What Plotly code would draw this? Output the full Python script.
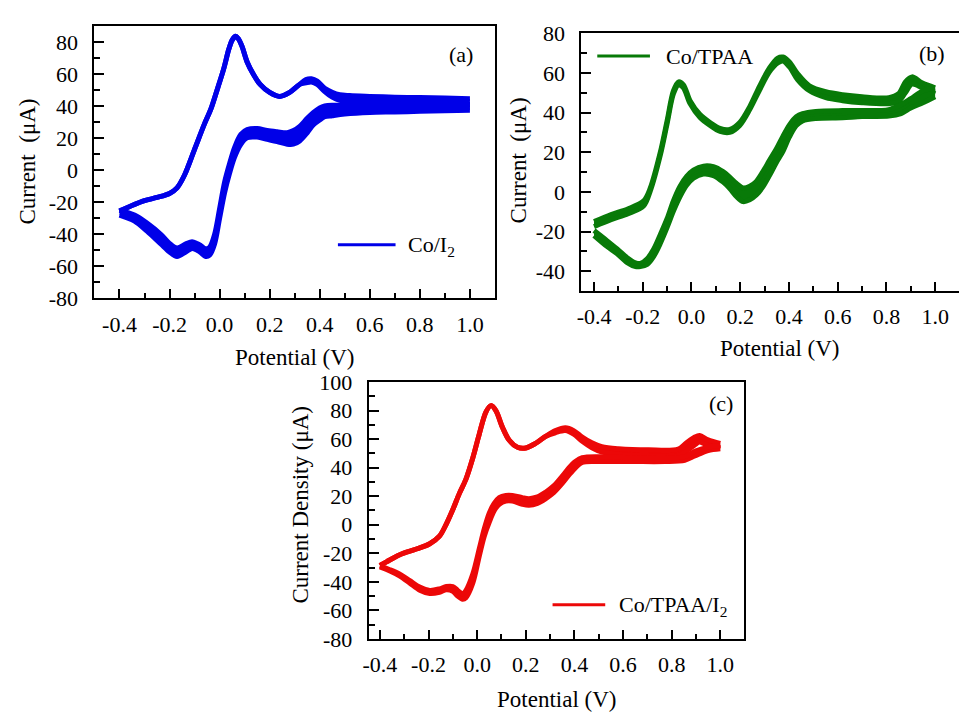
import plotly.graph_objects as go

# ---------------- data: cyclic voltammograms (potential in V, current in µA) ----------------
# Each scan direction is stored as an upper and lower envelope of the cycle band.

# (a) Co/I2
A_FWD_X = [-0.40, -0.35, -0.30, -0.25, -0.20, -0.17, -0.14, -0.10, -0.06, -0.035, -0.01, 0.017, 0.037, 0.05,
           0.063, 0.075, 0.09, 0.11, 0.136, 0.162, 0.20, 0.24, 0.28, 0.32, 0.345, 0.367, 0.39, 0.42, 0.45, 0.48,
           0.52, 0.60, 0.70, 0.80, 0.90, 1.00]
A_FWD_HI = [-25.5, -22, -19, -17, -14.5, -11, -3, 13, 29, 38, 50, 63.5, 75.5, 81, 83.5, 82, 77, 67.5, 59.5, 53.5,
            48.5, 46, 48.5, 53.5, 56.5, 57, 55.5, 51, 48.5, 47, 46.5, 46, 45.5, 45.3, 45, 44.5]
A_FWD_LO = [-25.5, -22, -19, -17, -14.5, -11, -3, 13, 29, 38, 50, 63.5, 75.5, 81, 83.5, 82, 77, 67.5, 59.5, 53.5,
            48.5, 46, 48.5, 53.5, 54.5, 55, 53.5, 49, 45.5, 43.5, 42.5, 42, 41.5, 41.5, 41.5, 41]
A_REV_X = [1.00, 0.90, 0.80, 0.70, 0.60, 0.50, 0.45, 0.42, 0.40, 0.375, 0.35, 0.32, 0.295, 0.27, 0.23, 0.19, 0.15,
           0.11, 0.085, 0.06, 0.04, 0.02, 0.00, -0.02, -0.04, -0.056, -0.075, -0.09, -0.11, -0.135, -0.17, -0.20,
           -0.235, -0.29, -0.34, -0.40]
A_REV_HI = [40.5, 40.3, 40, 40, 40.2, 40.5, 40.5, 40, 38.8, 36, 32.3, 27.3, 24.7, 23.3, 23.9, 24.7, 26, 25.3, 22.3,
            14.2, 4.2, -7.4, -24, -40, -48, -49, -47, -45.7, -44.7, -46, -48.6, -45.7, -40, -33, -28, -25]
A_REV_LO = [37.3, 37, 36.7, 36.3, 36, 35, 34, 33.3, 31.3, 28.3, 23.3, 18.2, 16.2, 16.2, 17.8, 19.2, 20.6, 20.2, 16.2,
            8.2, -1.8, -14, -30, -46, -53, -53.8, -51.5, -50, -48.8, -51, -53.8, -51, -46, -38, -31.7, -28]

# (b) Co/TPAA
B_FWD_X = [-0.40, -0.33, -0.26, -0.196, -0.169, -0.128, -0.10, -0.074, -0.053, -0.033, -0.006, 0.035, 0.076, 0.117,
           0.157, 0.198, 0.239, 0.28, 0.32, 0.354, 0.375, 0.402, 0.436, 0.484, 0.551, 0.62, 0.70, 0.81, 0.85,
           0.878, 0.905, 0.946, 1.00]
B_FWD_HI = [-15, -11.5, -8.5, -4.5, 2, 20, 36, 51, 55.5, 54, 46, 39, 35, 32, 31.5, 35, 43, 53.5, 62.5, 67.5, 68,
            65.5, 59.5, 53.5, 50.5, 49, 48, 47.5, 49.5, 55.5, 58, 55, 52.5]
B_FWD_LO = [-17.5, -14, -11, -7, 0.5, 18.5, 34.5, 49.5, 54, 52.5, 44.5, 37.5, 33.5, 30.5, 30, 33.5, 41.5, 51.5,
            60.5, 65, 66, 63, 56.5, 51, 47.5, 46, 45, 44.5, 45.5, 50, 54.3, 52.5, 49.5]
B_REV_X = [1.00, 0.95, 0.90, 0.86, 0.81, 0.70, 0.62, 0.51, 0.456, 0.43, 0.402, 0.375, 0.348, 0.32, 0.293, 0.266,
           0.239, 0.212, 0.185, 0.157, 0.13, 0.09, 0.049, 0.008, -0.02, -0.047, -0.074, -0.10, -0.128, -0.155,
           -0.182, -0.21, -0.23, -0.264, -0.305, -0.346, -0.40]
B_REV_HI = [52, 51, 47, 44, 41.5, 41, 41, 40.6, 39.5, 37.9, 33.8, 28, 21.6, 15.9, 10.2, 5.3, 2.9, 2, 4.2, 7.5,
            10.2, 12.7, 13, 11, 7.8, 2.9, -4.4, -13.4, -21.5, -28.8, -33.7, -36.1, -35.8, -33.2, -28.8, -24.7, -19.5]
B_REV_LO = [48, 45, 42.3, 39.5, 38.2, 38, 37.4, 37, 35.8, 33.4, 27.7, 20.3, 14.7, 8.2, 2.5, -1.6, -4, -4.9, -2.4,
            1.7, 4.9, 8.2, 9, 6.9, 3.3, -2.4, -9.7, -17.9, -26, -32.5, -36.6, -37.7, -37.7, -35.7, -31.2, -27.6, -22]

# (c) Co/TPAA/I2
C_FWD_X = [-0.40, -0.373, -0.318, -0.25, -0.195, -0.155, -0.127, -0.10, -0.073, -0.046, -0.018, 0.009, 0.036,
           0.057, 0.077, 0.104, 0.132, 0.166, 0.20, 0.24, 0.281, 0.322, 0.363, 0.397, 0.432, 0.472, 0.513, 0.581,
           0.704, 0.827, 0.861, 0.895, 0.915, 0.95, 1.00]
C_FWD_HI = [-28.5, -26, -21, -17, -13.3, -8, 0.5, 10.7, 22, 32, 46.8, 63.7, 79, 83.5, 80, 68.3, 59.2, 54.3, 53.8,
            57, 61.9, 66, 68, 66, 61.5, 57.4, 54.7, 53.3, 52.5, 53, 57.5, 61.5, 62.5, 59.5, 57]
C_FWD_LO = [-28.5, -26, -21, -17, -13.3, -8, 0.5, 10.7, 22, 32, 46.8, 63.7, 79, 83.5, 80, 68.3, 59.2, 54.3, 53.8,
            57, 61.9, 64.5, 66, 63.5, 58.5, 54, 51, 49.5, 48.5, 48.5, 51.5, 56, 58, 55.5, 54]
C_REV_X = [1.00, 0.95, 0.895, 0.854, 0.772, 0.636, 0.50, 0.432, 0.404, 0.377, 0.35, 0.316, 0.281, 0.248, 0.213,
           0.186, 0.145, 0.118, 0.091, 0.07, 0.05, 0.029, 0.009, -0.018, -0.046, -0.06, -0.08, -0.10, -0.127,
           -0.155, -0.195, -0.236, -0.277, -0.318, -0.359, -0.40]
C_REV_HI = [55.5, 54.4, 51.5, 47.7, 46.5, 47, 47.7, 47, 44.3, 39.8, 34.1, 27.4, 22.8, 19.5, 18.3, 19, 20.6, 20.6,
            19, 14.9, 8.2, -3, -16.6, -34.6, -46, -48.3, -46, -43.3, -43.3, -44.9, -46, -43.7, -39.2, -34.7, -31.5,
            -28.8]
C_REV_LO = [53.3, 52, 48.2, 45.2, 44.3, 44.3, 44.3, 43.7, 39.9, 34.7, 29, 22.7, 18.2, 15, 13.7, 14.4, 16.6, 16.6,
            14.4, 9.8, 1.9, -8.2, -21.8, -41, -51.1, -52.2, -50, -46.6, -45.5, -47.3, -48.2, -45.9, -40.9, -36,
            -32.4, -29.6]

# ---------------- axis ticks ----------------
X_TICKS = [-0.4, -0.2, 0.0, 0.2, 0.4, 0.6, 0.8, 1.0]
X_TICK_TEXT = ["-0.4", "-0.2", "0.0", "0.2", "0.4", "0.6", "0.8", "1.0"]
X_MINOR = [-0.3, -0.1, 0.1, 0.3, 0.5, 0.7, 0.9]

A_Y_TICKS = [-80, -60, -40, -20, 0, 20, 40, 60, 80]
B_Y_TICKS = [-40, -20, 0, 20, 40, 60, 80]
C_Y_TICKS = [-80, -60, -40, -20, 0, 20, 40, 60, 80, 100]
A_Y_MINOR = [-70, -50, -30, -10, 10, 30, 50, 70]
B_Y_MINOR = [-30, -10, 10, 30, 50, 70]
C_Y_MINOR = [-70, -50, -30, -10, 10, 30, 50, 70, 90]

BLUE = "rgb(0,0,232)"
GREEN = "rgb(8,122,8)"
RED = "rgb(236,8,8)"

W, H = 959, 725
FONT = 'Liberation Serif, "Times New Roman", serif'
TICK_SIZE = 22
TITLE_SIZE = 23
CURVE_W = 5


def px_x(v):
    return v / W


def px_y(v):
    return 1 - v / H


def band(x, hi, lo, color, xa, ya):
    # lower envelope, then upper envelope filled back down to it (smoothed paths)
    common = dict(x=x, xaxis=xa, yaxis=ya, mode="lines",
                  line=dict(color=color, width=CURVE_W, shape="spline", smoothing=0.9),
                  hoverinfo="skip", showlegend=False)
    return [go.Scatter(y=lo, **common),
            go.Scatter(y=hi, fill="tonexty", fillcolor=color, **common)]


fig = go.Figure()
for fx, fh, fl, rx, rh, rl, col, xa, ya in [
    (A_FWD_X, A_FWD_HI, A_FWD_LO, A_REV_X, A_REV_HI, A_REV_LO, BLUE, "x", "y"),
    (B_FWD_X, B_FWD_HI, B_FWD_LO, B_REV_X, B_REV_HI, B_REV_LO, GREEN, "x2", "y2"),
    (C_FWD_X, C_FWD_HI, C_FWD_LO, C_REV_X, C_REV_HI, C_REV_LO, RED, "x3", "y3"),
]:
    fig.add_traces(band(fx, fh, fl, col, xa, ya))
    fig.add_traces(band(rx, rh, rl, col, xa, ya))


def xaxis(domain, rng, anchor):
    return dict(
        domain=domain, range=rng, anchor=anchor,
        tickmode="array", tickvals=X_TICKS, ticktext=X_TICK_TEXT,
        ticks="inside", ticklen=9, tickwidth=2, tickcolor="black",
        minor=dict(tickmode="array", tickvals=X_MINOR, ticks="inside", ticklen=5, tickwidth=2, tickcolor="black"),
        showline=True, linewidth=2, linecolor="black", mirror=True,
        showgrid=False, zeroline=False, ticklabelstandoff=5,
        tickfont=dict(family=FONT, size=TICK_SIZE, color="black"),
    )


def yaxis(domain, rng, anchor, vals, minor, mirror=True):
    return dict(
        domain=domain, range=rng, anchor=anchor,
        tickmode="array", tickvals=vals, ticktext=[str(v) for v in vals],
        ticks="inside", ticklen=10, tickwidth=2, tickcolor="black",
        minor=dict(tickmode="array", tickvals=minor, ticks="inside", ticklen=6, tickwidth=2, tickcolor="black"),
        showline=True, linewidth=2, linecolor="black", mirror=mirror,
        showgrid=False, zeroline=False, ticklabelstandoff=10,
        tickfont=dict(family=FONT, size=TICK_SIZE, color="black"),
    )


fig.update_layout(
    width=W, height=H,
    margin=dict(l=0, r=0, t=0, b=0),
    paper_bgcolor="white", plot_bgcolor="white",
    showlegend=False,
    font=dict(family=FONT, color="black"),
    xaxis=xaxis([px_x(89), px_x(492)], [-0.5, 1.1], "y"),
    yaxis=yaxis([px_y(296.7), px_y(15)], [-80, 89.6], "x", A_Y_TICKS, A_Y_MINOR),
    xaxis2=xaxis([px_x(579), 1.0], [-0.452, 1.098], "y2"),
    yaxis2=yaxis([px_y(289), px_y(22)], [-50, 80], "x2", B_Y_TICKS, B_Y_MINOR, mirror=False),
    xaxis3=xaxis([px_x(365), px_x(743)], [-0.446, 1.099], "y3"),
    yaxis3=yaxis([px_y(649.3), px_y(383.3)], [-80, 100], "x3", C_Y_TICKS, C_Y_MINOR),
)

# axis titles
titles = [
    ("Potential (V)", 290, 358, 0),
    ("Potential (V)", 778, 348, 0),
    ("Potential (V)", 554, 712, 0),
    ("Current  (\u03bcA)", 22, 155, -90),
    ("Current  (\u03bcA)", 516, 154, -90),
    ("Current Density (\u03bcA)", 296, 510, -90),
]
for text, x, y, ang in titles:
    fig.add_annotation(text=text, x=px_x(x), y=px_y(y), xref="paper", yref="paper",
                       showarrow=False, textangle=ang, xanchor="center", yanchor="middle",
                       font=dict(family=FONT, size=TITLE_SIZE, color="black"))

# panel tags
for text, x, y in [("(a)", 458, 44), ("(b)", 932, 43), ("(c)", 720, 405)]:
    fig.add_annotation(text=text, x=px_x(x), y=px_y(y), xref="paper", yref="paper",
                       showarrow=False, xanchor="center", yanchor="middle",
                       font=dict(family=FONT, size=22, color="black"))

# legend keys
for label, col, x0, x1, ly, tx, ty in [
    ("Co/I<sub>2</sub>", BLUE, 334, 392, 241, 403, 242),
    ("Co/TPAA", GREEN, 595, 648, 45.5, 662, 46.5),
    ("Co/TPAA/I<sub>2</sub>", RED, 550, 603, 614, 615, 615),
]:
    fig.add_shape(type="line", xref="paper", yref="paper",
                  x0=px_x(x0), x1=px_x(x1), y0=px_y(ly), y1=px_y(ly),
                  line=dict(color=col, width=3))
    fig.add_annotation(text=label, x=px_x(tx), y=px_y(ty), xref="paper", yref="paper",
                       showarrow=False, xanchor="left", yanchor="middle",
                       font=dict(family=FONT, size=22, color="black"))

fig.write_html("out.html")
